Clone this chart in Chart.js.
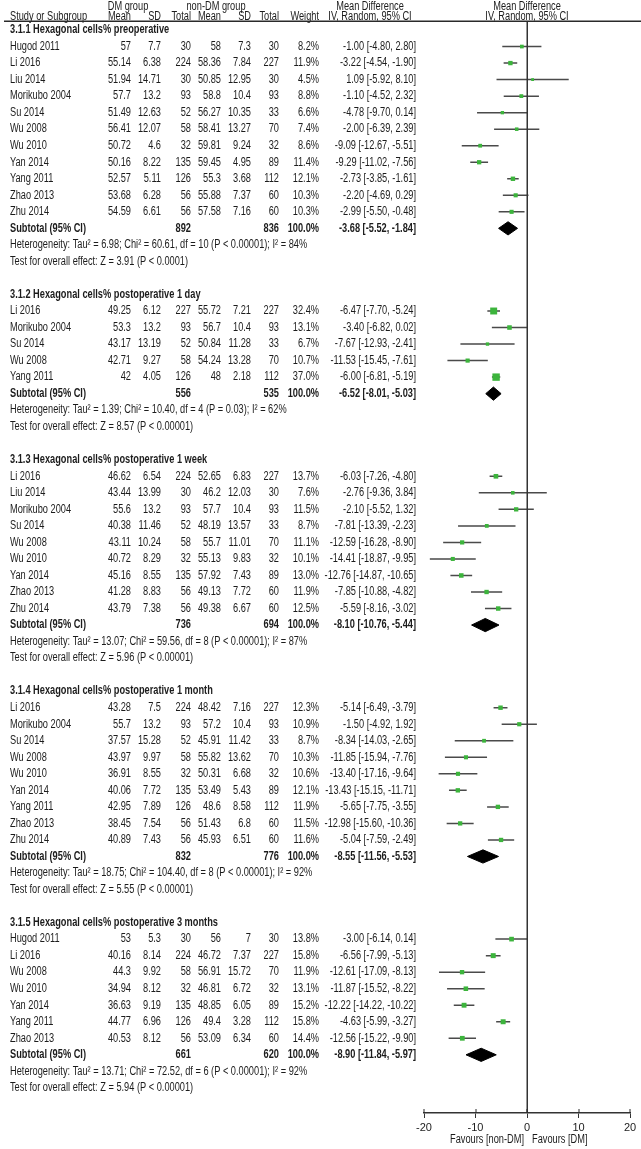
<!DOCTYPE html>
<html>
<head>
<meta charset="utf-8">
<script src="https://cdn.jsdelivr.net/npm/chart.js@4.4.1/dist/chart.umd.min.js"></script>
<style>
  html, body { margin: 0; padding: 0; background: #ffffff; }
  #forest { display: block; }
</style>
</head>
<body>
<canvas id="forest" width="641" height="1149"></canvas>
<script>
// -------------------------------------------------------------
// DATA (one inner array per subgroup)
// -------------------------------------------------------------
const subgroupTitles = [
    '3.1.1 Hexagonal cells% preoperative',
    '3.1.2 Hexagonal cells% postoperative 1 day',
    '3.1.3 Hexagonal cells% postoperative 1 week',
    '3.1.4 Hexagonal cells% postoperative 1 month',
    '3.1.5 Hexagonal cells% postoperative 3 months'
];

const studyNames = [
    ['Hugod 2011', 'Li 2016', 'Liu 2014', 'Morikubo 2004', 'Su 2014', 'Wu 2008', 'Wu 2010', 'Yan 2014', 'Yang 2011', 'Zhao 2013', 'Zhu 2014'],
    ['Li 2016', 'Morikubo 2004', 'Su 2014', 'Wu 2008', 'Yang 2011'],
    ['Li 2016', 'Liu 2014', 'Morikubo 2004', 'Su 2014', 'Wu 2008', 'Wu 2010', 'Yan 2014', 'Zhao 2013', 'Zhu 2014'],
    ['Li 2016', 'Morikubo 2004', 'Su 2014', 'Wu 2008', 'Wu 2010', 'Yan 2014', 'Yang 2011', 'Zhao 2013', 'Zhu 2014'],
    ['Hugod 2011', 'Li 2016', 'Wu 2008', 'Wu 2010', 'Yan 2014', 'Yang 2011', 'Zhao 2013']
];

const dmMean = [
    [57, 55.14, 51.94, 57.7, 51.49, 56.41, 50.72, 50.16, 52.57, 53.68, 54.59],
    [49.25, 53.3, 43.17, 42.71, 42],
    [46.62, 43.44, 55.6, 40.38, 43.11, 40.72, 45.16, 41.28, 43.79],
    [43.28, 55.7, 37.57, 43.97, 36.91, 40.06, 42.95, 38.45, 40.89],
    [53, 40.16, 44.3, 34.94, 36.63, 44.77, 40.53]
];
const dmSD = [
    [7.7, 6.38, 14.71, 13.2, 12.63, 12.07, 4.6, 8.22, 5.11, 6.28, 6.61],
    [6.12, 13.2, 13.19, 9.27, 4.05],
    [6.54, 13.99, 13.2, 11.46, 10.24, 8.29, 8.55, 8.83, 7.38],
    [7.5, 13.2, 15.28, 9.97, 8.55, 7.72, 7.89, 7.54, 7.43],
    [5.3, 8.14, 9.92, 8.12, 9.19, 6.96, 8.12]
];
const dmTotal = [
    [30, 224, 30, 93, 52, 58, 32, 135, 126, 56, 56],
    [227, 93, 52, 58, 126],
    [224, 30, 93, 52, 58, 32, 135, 56, 56],
    [224, 93, 52, 58, 32, 135, 126, 56, 56],
    [30, 224, 58, 32, 135, 126, 56]
];

const nonMean = [
    [58, 58.36, 50.85, 58.8, 56.27, 58.41, 59.81, 59.45, 55.3, 55.88, 57.58],
    [55.72, 56.7, 50.84, 54.24, 48],
    [52.65, 46.2, 57.7, 48.19, 55.7, 55.13, 57.92, 49.13, 49.38],
    [48.42, 57.2, 45.91, 55.82, 50.31, 53.49, 48.6, 51.43, 45.93],
    [56, 46.72, 56.91, 46.81, 48.85, 49.4, 53.09]
];
const nonSD = [
    [7.3, 7.84, 12.95, 10.4, 10.35, 13.27, 9.24, 4.95, 3.68, 7.37, 7.16],
    [7.21, 10.4, 11.28, 13.28, 2.18],
    [6.83, 12.03, 10.4, 13.57, 11.01, 9.83, 7.43, 7.72, 6.67],
    [7.16, 10.4, 11.42, 13.62, 6.68, 5.43, 8.58, 6.8, 6.51],
    [7, 7.37, 15.72, 6.72, 6.05, 3.28, 6.34]
];
const nonTotal = [
    [30, 227, 30, 93, 33, 70, 32, 89, 112, 60, 60],
    [227, 93, 33, 70, 112],
    [227, 30, 93, 33, 70, 32, 89, 60, 60],
    [227, 93, 33, 70, 32, 89, 112, 60, 60],
    [30, 227, 70, 32, 89, 112, 60]
];

const weights = [
    [8.2, 11.9, 4.5, 8.8, 6.6, 7.4, 8.6, 11.4, 12.1, 10.3, 10.3],
    [32.4, 13.1, 6.7, 10.7, 37.0],
    [13.7, 7.6, 11.5, 8.7, 11.1, 10.1, 13.0, 11.9, 12.5],
    [12.3, 10.9, 8.7, 10.3, 10.6, 12.1, 11.9, 11.5, 11.6],
    [13.8, 15.8, 11.9, 13.1, 15.2, 15.8, 14.4]
];

const meanDiff = [
    [-1.00, -3.22, 1.09, -1.10, -4.78, -2.00, -9.09, -9.29, -2.73, -2.20, -2.99],
    [-6.47, -3.40, -7.67, -11.53, -6.00],
    [-6.03, -2.76, -2.10, -7.81, -12.59, -14.41, -12.76, -7.85, -5.59],
    [-5.14, -1.50, -8.34, -11.85, -13.40, -13.43, -5.65, -12.98, -5.04],
    [-3.00, -6.56, -12.61, -11.87, -12.22, -4.63, -12.56]
];
const ciLow = [
    [-4.80, -4.54, -5.92, -4.52, -9.70, -6.39, -12.67, -11.02, -3.85, -4.69, -5.50],
    [-7.70, -6.82, -12.93, -15.45, -6.81],
    [-7.26, -9.36, -5.52, -13.39, -16.28, -18.87, -14.87, -10.88, -8.16],
    [-6.49, -4.92, -14.03, -15.94, -17.16, -15.15, -7.75, -15.60, -7.59],
    [-6.14, -7.99, -17.09, -15.52, -14.22, -5.99, -15.22]
];
const ciHigh = [
    [2.80, -1.90, 8.10, 2.32, 0.14, 2.39, -5.51, -7.56, -1.61, 0.29, -0.48],
    [-5.24, 0.02, -2.41, -7.61, -5.19],
    [-4.80, 3.84, 1.32, -2.23, -8.90, -9.95, -10.65, -4.82, -3.02],
    [-3.79, 1.92, -2.65, -7.76, -9.64, -11.71, -3.55, -10.36, -2.49],
    [0.14, -5.13, -8.13, -8.22, -10.22, -3.27, -9.90]
];

// subtotals
const subDmTotal = [892, 556, 736, 832, 661];
const subNonTotal = [836, 535, 694, 776, 620];
const subMeanDiff = [-3.68, -6.52, -8.10, -8.55, -8.90];
const subLow = [-5.52, -8.01, -10.76, -11.56, -11.84];
const subHigh = [-1.84, -5.03, -5.44, -5.53, -5.97];

const heterogeneity = [
    'Heterogeneity: Tau² = 6.98; Chi² = 60.61, df = 10 (P < 0.00001); I² = 84%',
    'Heterogeneity: Tau² = 1.39; Chi² = 10.40, df = 4 (P = 0.03); I² = 62%',
    'Heterogeneity: Tau² = 13.07; Chi² = 59.56, df = 8 (P < 0.00001); I² = 87%',
    'Heterogeneity: Tau² = 18.75; Chi² = 104.40, df = 8 (P < 0.00001); I² = 92%',
    'Heterogeneity: Tau² = 13.71; Chi² = 72.52, df = 6 (P < 0.00001); I² = 92%'
];
const overallEffect = [
    'Test for overall effect: Z = 3.91 (P < 0.0001)',
    'Test for overall effect: Z = 8.57 (P < 0.00001)',
    'Test for overall effect: Z = 5.96 (P < 0.00001)',
    'Test for overall effect: Z = 5.55 (P < 0.00001)',
    'Test for overall effect: Z = 5.94 (P < 0.00001)'
];

const xTicks = [-20, -10, 0, 10, 20];
const noEffect = 0;

// -------------------------------------------------------------
// ROW LAYOUT
// -------------------------------------------------------------
const linhas = [];
let proximaLinha = 0;
subgroupTitles.forEach((titulo, g) => {
    linhas.push({ tipo: 'titulo', g, row: proximaLinha++ });
    studyNames[g].forEach((nome, i) => linhas.push({ tipo: 'estudo', g, i, row: proximaLinha++ }));
    linhas.push({ tipo: 'subtotal', g, row: proximaLinha++ });
    linhas.push({ tipo: 'het', g, row: proximaLinha++ });
    linhas.push({ tipo: 'teste', g, row: proximaLinha++ });
    proximaLinha++; // blank line between subgroups
});
const Y_MIN = -0.545;
const Y_MAX = 65.52;

const FONTE = '"Liberation Sans", Arial, sans-serif';
const APERTO = 0.77; // the original text is horizontally condensed
const COR_TEXTO = '#1c1c1c';
const COL = { nome: 10, dmMean: 131, dmSD: 161, dmN: 191, nonMean: 221, nonSD: 251, nonN: 279, peso: 319, ic: 416 };

function fmtIC(md, lo, hi) {
    return `${md.toFixed(2)} [${lo.toFixed(2)}, ${hi.toFixed(2)}]`;
}

function escrever(ctx, texto, x, y, alinhamento, negrito) {
    ctx.save();
    ctx.font = (negrito ? 'bold ' : '') + '12px ' + FONTE;
    ctx.fillStyle = COR_TEXTO;
    ctx.textAlign = alinhamento;
    ctx.textBaseline = 'middle';
    ctx.translate(x, y);
    ctx.scale(APERTO, 1);
    ctx.fillText(texto, 0, 0);
    ctx.restore();
}

// -------------------------------------------------------------
// DATASETS
// -------------------------------------------------------------
const pontosIC = [];
const quadrados = [];
linhas.filter(l => l.tipo === 'estudo').forEach(l => {
    pontosIC.push({ x: ciLow[l.g][l.i], y: l.row });
    pontosIC.push({ x: ciHigh[l.g][l.i], y: l.row });
    pontosIC.push({ x: null, y: null });
    quadrados.push({ x: meanDiff[l.g][l.i], y: l.row, w: weights[l.g][l.i] });
});

const losangos = linhas.filter(l => l.tipo === 'subtotal').map(l => ({
    type: 'line',
    data: [
        { x: subLow[l.g], y: l.row },
        { x: subMeanDiff[l.g], y: l.row - 0.4 },
        { x: subHigh[l.g], y: l.row },
        { x: subMeanDiff[l.g], y: l.row + 0.4 },
        { x: subLow[l.g], y: l.row }
    ],
    borderColor: '#000000',
    backgroundColor: '#000000',
    borderWidth: 1,
    pointRadius: 0,
    tension: 0,
    fill: 'shape',
    order: 1
}));

// -------------------------------------------------------------
// PLUGIN: table text, header rule and line of no effect
// -------------------------------------------------------------
function retangulo(ctx, x, y, w, h, cor) {
    ctx.save();
    ctx.fillStyle = cor || '#2a2a2a';
    ctx.fillRect(x, y, w, h);
    ctx.restore();
}

const pluginTabela = {
    id: 'tabela',
    afterDraw(chart) {
        const ctx = chart.ctx;
        const y = chart.scales.y;
        const x = chart.scales.x;
        const area = chart.chartArea;
        const zero = Math.round(x.getPixelForValue(noEffect));

        // line of no effect
        retangulo(ctx, zero - 0.5, area.top, 1.5, area.bottom - area.top, '#333333');
        // small tick marks above the axis, as in the original
        xTicks.forEach(v => {
            const px = Math.round(x.getPixelForValue(v));
            retangulo(ctx, px - 0.5, area.bottom - 4, 1, 4);
        });

        // column headers
        escrever(ctx, 'DM group', 128, 7, 'center', false);
        escrever(ctx, 'non-DM group', 216, 7, 'center', false);
        escrever(ctx, 'Mean Difference', 370, 7, 'center', false);
        escrever(ctx, 'Mean Difference', zero, 7, 'center', false);
        escrever(ctx, 'Study or Subgroup', COL.nome, 17, 'left', false);
        escrever(ctx, 'Mean', COL.dmMean, 17, 'right', false);
        escrever(ctx, 'SD', COL.dmSD, 17, 'right', false);
        escrever(ctx, 'Total', COL.dmN, 17, 'right', false);
        escrever(ctx, 'Mean', COL.nonMean, 17, 'right', false);
        escrever(ctx, 'SD', COL.nonSD, 17, 'right', false);
        escrever(ctx, 'Total', COL.nonN, 17, 'right', false);
        escrever(ctx, 'Weight', COL.peso, 17, 'right', false);
        escrever(ctx, 'IV, Random, 95% CI', 370, 17, 'center', false);
        escrever(ctx, 'IV, Random, 95% CI', zero, 17, 'center', false);

        retangulo(ctx, 4, area.top - 0.5, 637, 1.5);

        linhas.forEach(l => {
            const py = y.getPixelForValue(l.row);
            const g = l.g;
            if (l.tipo === 'titulo') {
                escrever(ctx, subgroupTitles[g], COL.nome, py, 'left', true);
            } else if (l.tipo === 'estudo') {
                const i = l.i;
                escrever(ctx, studyNames[g][i], COL.nome, py, 'left', false);
                escrever(ctx, String(dmMean[g][i]), COL.dmMean, py, 'right', false);
                escrever(ctx, String(dmSD[g][i]), COL.dmSD, py, 'right', false);
                escrever(ctx, String(dmTotal[g][i]), COL.dmN, py, 'right', false);
                escrever(ctx, String(nonMean[g][i]), COL.nonMean, py, 'right', false);
                escrever(ctx, String(nonSD[g][i]), COL.nonSD, py, 'right', false);
                escrever(ctx, String(nonTotal[g][i]), COL.nonN, py, 'right', false);
                escrever(ctx, weights[g][i].toFixed(1) + '%', COL.peso, py, 'right', false);
                escrever(ctx, fmtIC(meanDiff[g][i], ciLow[g][i], ciHigh[g][i]), COL.ic, py, 'right', false);
            } else if (l.tipo === 'subtotal') {
                escrever(ctx, 'Subtotal (95% CI)', COL.nome, py, 'left', true);
                escrever(ctx, String(subDmTotal[g]), COL.dmN, py, 'right', true);
                escrever(ctx, String(subNonTotal[g]), COL.nonN, py, 'right', true);
                escrever(ctx, '100.0%', COL.peso, py, 'right', true);
                escrever(ctx, fmtIC(subMeanDiff[g], subLow[g], subHigh[g]), COL.ic, py, 'right', true);
            } else if (l.tipo === 'het') {
                escrever(ctx, heterogeneity[g], COL.nome, py, 'left', false);
            } else {
                escrever(ctx, overallEffect[g], COL.nome, py, 'left', false);
            }
        });

        escrever(ctx, 'Favours [non-DM]', zero - 3, 1140, 'right', false);
        escrever(ctx, 'Favours [DM]', zero + 5, 1140, 'left', false);
    }
};

// -------------------------------------------------------------
// CHART
// -------------------------------------------------------------
new Chart(document.getElementById('forest').getContext('2d'), {
    type: 'scatter',
    data: {
        datasets: [
            {
                data: quadrados,
                pointStyle: 'rect',
                pointRadius: c => (c.raw ? (1.15 * Math.sqrt(c.raw.w) + 0.4) / Math.SQRT2 : 0),
                backgroundColor: '#3cb43c',
                borderWidth: 0,
                order: 0
            },
            {
                type: 'line',
                data: pontosIC,
                borderColor: '#4a4a4a',
                borderWidth: 1.5,
                pointRadius: 0,
                spanGaps: false,
                fill: false,
                order: 2
            },
            ...losangos
        ]
    },
    options: {
        responsive: false,
        animation: false,
        events: [],
        layout: { padding: { left: 424, right: 11, top: 21, bottom: 0 } },
        plugins: { legend: { display: false }, tooltip: { enabled: false } },
        scales: {
            x: {
                type: 'linear',
                min: -20,
                max: 20,
                afterBuildTicks: s => { s.ticks = xTicks.map(v => ({ value: v })); },
                afterFit: s => { s.height = 36; },
                ticks: { color: COR_TEXTO, font: { family: FONTE, size: 11 }, padding: 3 },
                grid: {
                    drawOnChartArea: false,
                    tickColor: '#333333',
                    tickLength: 5,
                    lineWidth: 1
                },
                border: { display: true, color: '#333333', width: 1.5 }
            },
            y: {
                type: 'linear',
                display: false,
                reverse: true,
                min: Y_MIN,
                max: Y_MAX
            }
        }
    },
    plugins: [pluginTabela]
});
</script>
</body>
</html>
